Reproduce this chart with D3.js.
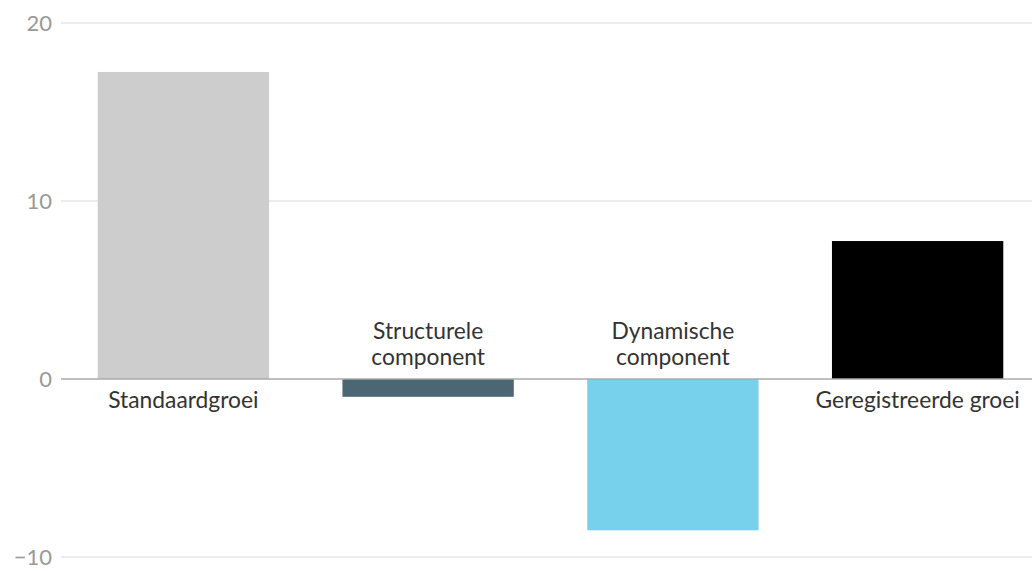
<!DOCTYPE html>
<html><head><meta charset="utf-8">
<script src="https://cdn.jsdelivr.net/npm/d3@7"></script>
<style>body{margin:0;background:#fff}svg{display:block}text{font-family:Lato,sans-serif}</style>
</head><body><svg id="c" width="1032" height="571"></svg>
<script>
const categories = [["Standaardgroei"], ["Structurele", "component"], ["Dynamische", "component"], ["Geregistreerde groei"]];
const values = [17.25, -1.0, -8.5, 7.75];
const colors = ["#cccdcc", "#4a6773", "#78d1ec", "#000000"];
const tickValues = [-10, 0, 10, 20];

const svg = d3.select("#c");
const x = d3.scaleBand().domain(d3.range(categories.length)).range([61, 1040]).paddingInner(0.3).paddingOuter(0.15);
const y = d3.scaleLinear().domain([-10, 20]).range([557, 23]);

svg.append("g").selectAll("line").data(tickValues.filter(d => d !== 0)).join("line")
  .attr("x1", 61).attr("x2", 1032).attr("y1", d => y(d)).attr("y2", d => y(d))
  .attr("stroke", "#d9d9d9").attr("stroke-width", 1);

svg.append("g").selectAll("text").data(tickValues).join("text")
  .attr("x", 52).attr("y", d => y(d)).attr("dy", "0.36em").attr("text-anchor", "end")
  .attr("fill", "#999").style("font-size", "22px")
  .text(d => d < 0 ? "\u2212" + Math.abs(d) : d);

svg.append("g").selectAll("rect").data(values).join("rect")
  .attr("x", (d, i) => x(i)).attr("width", x.bandwidth())
  .attr("y", d => y(Math.max(0, d))).attr("height", d => Math.abs(y(d) - y(0)))
  .attr("fill", (d, i) => colors[i]);

svg.append("line").attr("x1", 61).attr("x2", 1032).attr("y1", y(0)).attr("y2", y(0))
  .attr("stroke", "#aaa").attr("stroke-width", 1.5);

const lab = svg.append("g").selectAll("text").data(categories).join("text")
  .attr("text-anchor", "middle").attr("fill", "#333").style("font-size", "22.8px")
  .attr("x", (d, i) => x(i) + x.bandwidth() / 2);
lab.each(function(d, i) {
  const t = d3.select(this);
  const n = d.length;
  const base = values[i] >= 0 ? y(0) + 29 : y(0) - 14 - (n - 1) * 26;
  d.forEach((s, j) => t.append("tspan").attr("x", x(i) + x.bandwidth() / 2).attr("y", base + j * 26).text(s));
});
</script></body></html>
